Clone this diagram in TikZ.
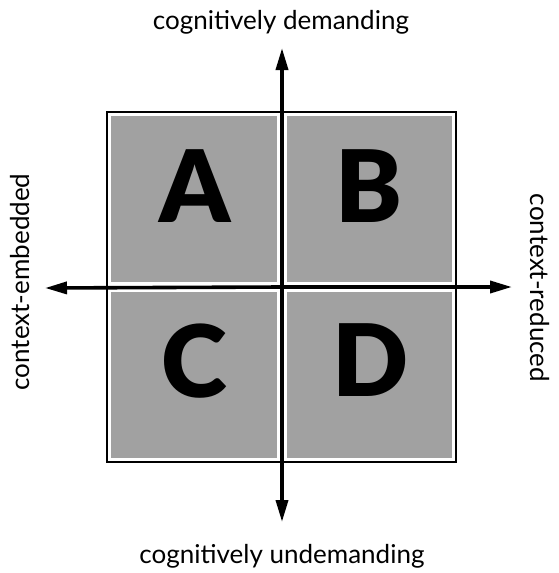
\documentclass[tikz,border=0pt]{standalone}
\usepackage{fontspec}
\setmainfont{Lato}
\newfontfamily\heavy{Lato Black}
\usetikzlibrary{arrows.meta}
\begin{document}
\begin{tikzpicture}[x=1pt,y=-1pt,
  quad/.style={fill=black!37,draw=none},
  letter/.style={font=\heavy\fontsize{100}{100}\selectfont,inner sep=0pt,anchor=base},
  lbl/.style={font=\fontsize{26}{26}\selectfont,inner sep=0pt},
  axis/.style={line width=3.6pt,-{Triangle[length=22pt,width=12pt]}}]
\useasboundingbox (0,0) rectangle (558,573);
\fill[white] (0,0) rectangle (558,573);
\draw[line width=2pt] (107,112) rectangle (456,462);
\fill[quad] (111,116) rectangle (277,282);
\fill[quad] (287,116) rectangle (452,282);
\fill[quad] (111,292) rectangle (277,458);
\fill[quad] (287,292) rectangle (452,458);
\node[letter] (A) at (195,222) {A};
\node[letter] (B) at (369,222) {B};
\node[letter] (C) at (194,397) {C};
\node[letter] (D) at (371,396) {D};
\coordinate (O) at (282,287);
\coordinate (top) at (282,48);
\coordinate (bot) at (282,522);
\coordinate (lft) at (45,288);
\coordinate (rgt) at (512,287);
\draw[axis] (O) -- (top);
\draw[axis] (O) -- (bot);
\draw[axis] (O) -- (lft);
\draw[axis] (O) -- (rgt);
\node[lbl] (td) at (281,22) {cognitively demanding};
\node[lbl] (tu) at (282,556) {cognitively undemanding};
\node[lbl,rotate=90] (le) at (20,282) {context-embedded};
\node[lbl,rotate=-90] (lr) at (540,288) {context-reduced};
\end{tikzpicture}
\end{document}
